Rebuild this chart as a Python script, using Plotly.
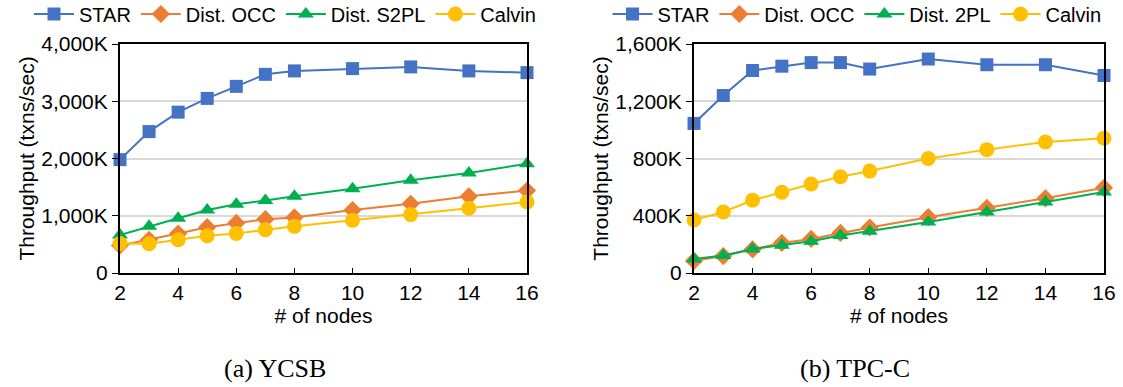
import plotly.graph_objects as go
from plotly.subplots import make_subplots

nodes = [2, 3, 4, 5, 6, 7, 8, 10, 12, 14, 16]

# (a) YCSB, throughput in K txns/sec
ycsb_star = [1980, 2470, 2810, 3050, 3260, 3470, 3530, 3570, 3600, 3530, 3500]
ycsb_occ = [480, 580, 690, 800, 875, 940, 970, 1100, 1210, 1340, 1440]
ycsb_s2pl = [665, 815, 955, 1100, 1200, 1265, 1340, 1470, 1620, 1745, 1910]
ycsb_calvin = [515, 510, 580, 650, 690, 755, 815, 920, 1020, 1130, 1240]

# (b) TPC-C, throughput in K txns/sec
tpcc_star = [1045, 1240, 1415, 1445, 1470, 1470, 1425, 1495, 1455, 1455, 1380]
tpcc_occ = [85, 118, 165, 210, 238, 280, 318, 390, 455, 522, 595]
tpcc_2pl = [97, 122, 168, 194, 222, 262, 292, 356, 426, 496, 566]
tpcc_calvin = [370, 426, 508, 564, 622, 672, 712, 800, 862, 915, 942]

ycsb_ticks = [0, 1000, 2000, 3000, 4000]
ycsb_ticktext = ["0", "1,000K", "2,000K", "3,000K", "4,000K"]
tpcc_ticks = [0, 400, 800, 1200, 1600]
tpcc_ticktext = ["0", "400K", "800K", "1,200K", "1,600K"]
x_ticks = [2, 4, 6, 8, 10, 12, 14, 16]

captions = ["(a) YCSB", "(b) TPC-C"]

BLUE = "#4472C4"
ORANGE = "#ED7D31"
GREEN = "#00B050"
YELLOW = "#FFC000"

fig = make_subplots(rows=1, cols=2)

def add(col, name, ys, color, symbol, size, legend):
    fig.add_trace(go.Scatter(
        x=nodes, y=ys, name=name, mode="lines+markers",
        line=dict(color=color, width=2),
        marker=dict(symbol=symbol, size=size, color=color),
        legend=legend, cliponaxis=False,
    ), row=1, col=col)

add(1, "STAR", ycsb_star, BLUE, "square", 13, "legend")
add(1, "Dist. OCC", ycsb_occ, ORANGE, "diamond", 14, "legend")
add(1, "Dist. S2PL", ycsb_s2pl, GREEN, "triangle-up", 14, "legend")
add(1, "Calvin", ycsb_calvin, YELLOW, "circle", 15, "legend")

add(2, "STAR", tpcc_star, BLUE, "square", 13, "legend2")
add(2, "Dist. OCC", tpcc_occ, ORANGE, "diamond", 14, "legend2")
add(2, "Dist. 2PL", tpcc_2pl, GREEN, "triangle-up", 14, "legend2")
add(2, "Calvin", tpcc_calvin, YELLOW, "circle", 15, "legend2")

FONT = "Liberation Sans, Arial, sans-serif"
W, H = 1123, 387

def px(x):
    return x / W

def py(y):
    return 1 - y / H

axis_common = dict(showline=True, linecolor="black", linewidth=2, mirror=True,
                   automargin=False,
                   tickfont=dict(size=21, color="black", family=FONT),
                   title_font=dict(size=21, color="black", family=FONT))

fig.update_xaxes(range=[2, 16], tickvals=x_ticks, ticks="inside", ticklen=5,
                 tickcolor="black", showgrid=False, zeroline=False,
                 title_text="# of nodes", title_standoff=3, **axis_common)
fig.update_yaxes(ticks="outside", ticklen=6, tickcolor="black",
                 showgrid=True, gridcolor="#D9D9D9", gridwidth=1.5, zeroline=False,
                 title_text="Throughput (txns/sec)", title_standoff=1, **axis_common)

fig.update_layout(
    width=W, height=H,
    margin=dict(l=0, r=0, t=0, b=0, autoexpand=False),
    plot_bgcolor="white", paper_bgcolor="white",
    font=dict(family=FONT, color="black", size=21),
    xaxis=dict(domain=[px(120), px(527)]),
    xaxis2=dict(domain=[px(694), px(1104)]),
    yaxis=dict(domain=[py(273), py(44)], range=[0, 4000], tickvals=ycsb_ticks, ticktext=ycsb_ticktext),
    yaxis2=dict(domain=[py(273), py(44)], range=[0, 1600], tickvals=tpcc_ticks, ticktext=tpcc_ticktext),
    legend=dict(orientation="h", x=px(285), xanchor="center", y=py(14), yanchor="middle",
                font=dict(size=20, family=FONT), itemwidth=40, tracegroupgap=0,
                bgcolor="rgba(0,0,0,0)"),
    legend2=dict(orientation="h", x=px(857), xanchor="center", y=py(14), yanchor="middle",
                 font=dict(size=20, family=FONT), itemwidth=40, tracegroupgap=0,
                 bgcolor="rgba(0,0,0,0)"),
    showlegend=True,
)

for cx, text in zip([275, 855], captions):
    fig.add_annotation(x=px(cx), y=py(368), xref="paper", yref="paper",
                       text=text, showarrow=False, xanchor="center", yanchor="middle",
                       font=dict(family="Liberation Serif, DejaVu Serif, serif", size=26, color="black"))

# remove the default page margin so the figure sits at the window origin
fig.write_html("out.html", config={"displayModeBar": False},
               post_script="document.body.style.margin='0';")
